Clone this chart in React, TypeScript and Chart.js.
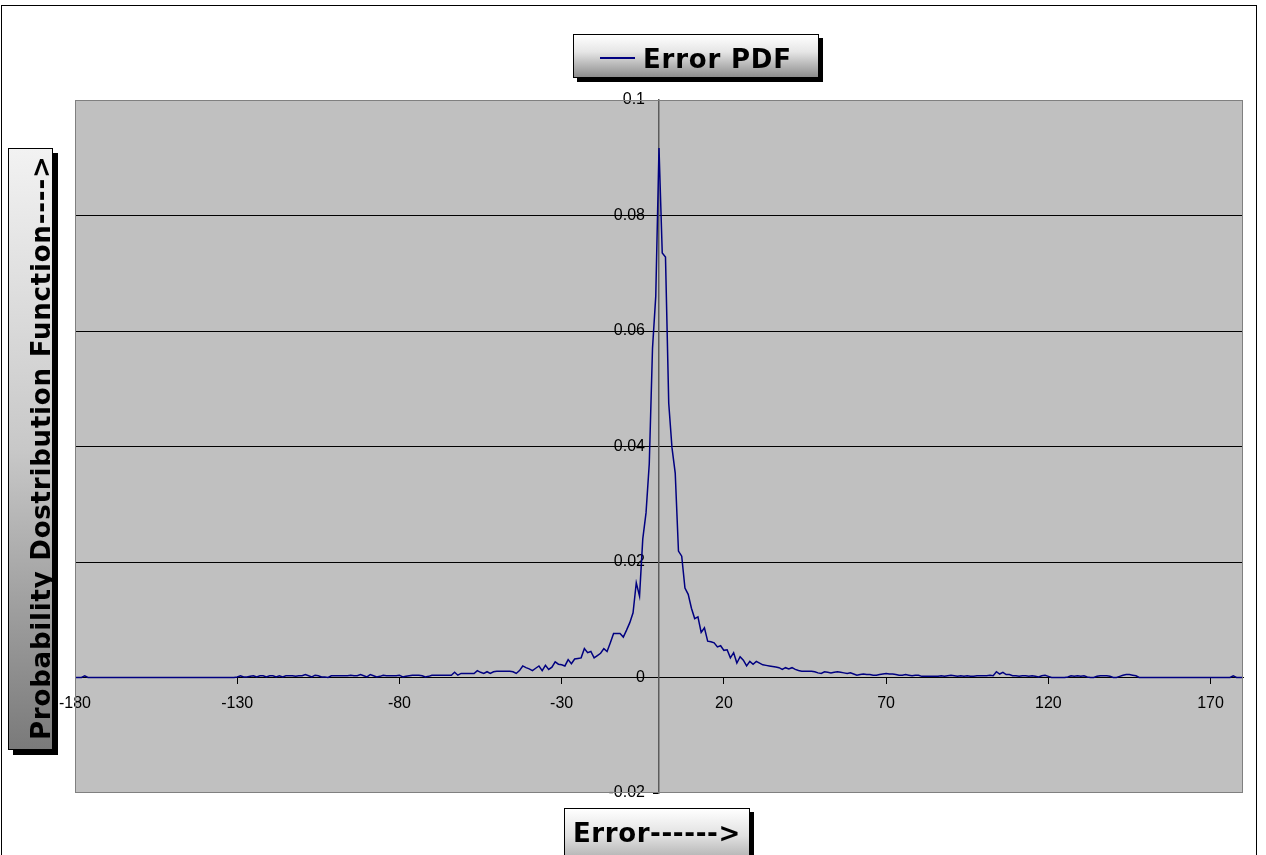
import React, { useEffect, useRef } from "react";
import { Chart, registerables } from "chart.js";

Chart.register(...registerables);

const SERIES_LABEL = "Error PDF";
const X_TITLE = "Error------>";
const Y_TITLE = "Probability Dostribution Function---->";

// error values run from -180 to 180 in steps of 1 (one PDF value each)
const X_START = -180;
const X_MIN = -180;
const X_MAX = 180;
const xTickValues = [-180, -130, -80, -30, 20, 70, 120, 170];
const yTickValues = [-0.02, 0, 0.02, 0.04, 0.06, 0.08, 0.1];
const yTickLabels = ["-0.02", "0", "0.02", "0.04", "0.06", "0.08", "0.1"];

// PDF values for error = -180 ... 180
const pdfValues = [
  0, 0, 0, 0.0003, 0, 0, 0, 0, 0, 0, // -180..-171
  0, 0, 0, 0, 0, 0, 0, 0, 0, 0, // -170..-161
  0, 0, 0, 0, 0, 0, 0, 0, 0, 0, // -160..-151
  0, 0, 0, 0, 0, 0, 0, 0, 0, 0, // -150..-141
  0, 0, 0, 0, 0, 0, 0, 0, 0, 0, // -140..-131
  0.0001, 0.0003, 0.0001, 0.0001, 0.0002, 0.0003, 0.0001, 0.0003, 0.0003, 0.0001, // -130..-121
  0.0003, 0.0003, 0.0001, 0.0003, 0.0001, 0.0003, 0.0003, 0.0003, 0.0002, 0.0003, // -120..-111
  0.0003, 0.0005, 0.0003, 0.0001, 0.0004, 0.0003, 0.0001, 0.0001, 0, 0.0003, // -110..-101
  0.0003, 0.0003, 0.0003, 0.0003, 0.0003, 0.0004, 0.0003, 0.0003, 0.0005, 0.0003, // -100..-91
  0.0001, 0.0005, 0.0003, 0.0001, 0.0002, 0.0004, 0.0003, 0.0003, 0.0003, 0.0003, // -90..-81
  0.0004, 0.0001, 0.0002, 0.0003, 0.0004, 0.0004, 0.0004, 0.0003, 0.0001, 0.0002, // -80..-71
  0.0004, 0.0004, 0.0004, 0.0004, 0.0004, 0.0004, 0.0004, 0.0009, 0.0004, 0.0007, // -70..-61
  0.0007, 0.0007, 0.0007, 0.0007, 0.0012, 0.0009, 0.0007, 0.001, 0.0007, 0.001, // -60..-51
  0.0011, 0.0011, 0.0011, 0.0011, 0.0011, 0.001, 0.0007, 0.0012, 0.002, 0.0017, // -50..-41
  0.0015, 0.0012, 0.0016, 0.002, 0.0012, 0.0021, 0.0014, 0.0018, 0.0027, 0.0023, // -40..-31
  0.0022, 0.002, 0.0031, 0.0024, 0.0032, 0.0033, 0.0034, 0.005, 0.0043, 0.0045, // -30..-21
  0.0034, 0.0038, 0.0042, 0.005, 0.0045, 0.006, 0.0076, 0.0076, 0.0076, 0.007, // -20..-11
  0.0082, 0.0095, 0.0112, 0.0164, 0.0141, 0.024, 0.0285, 0.037, 0.057, 0.066, // -10..-1
  0.0917, // 0
  0.0735, 0.0728, 0.0475, 0.0398, 0.0354, 0.0219, 0.021, 0.0155, 0.0144, 0.012, // 1..10
  0.0102, 0.0105, 0.0078, 0.0086, 0.0063, 0.0062, 0.006, 0.0053, 0.0055, 0.0047, // 11..20
  0.0048, 0.0034, 0.0043, 0.0025, 0.0036, 0.003, 0.002, 0.0028, 0.0023, 0.0028, // 21..30
  0.0025, 0.0022, 0.0021, 0.002, 0.0019, 0.0018, 0.0017, 0.0014, 0.0017, 0.0015, // 31..40
  0.0017, 0.0014, 0.0012, 0.0011, 0.0011, 0.0011, 0.0011, 0.001, 0.0008, 0.0007, // 41..50
  0.001, 0.0009, 0.0008, 0.0009, 0.001, 0.0009, 0.0008, 0.0007, 0.0008, 0.0006, // 51..60
  0.0004, 0.0005, 0.0006, 0.0005, 0.0005, 0.0004, 0.0004, 0.0005, 0.0006, 0.0007, // 61..70
  0.0006, 0.0006, 0.0005, 0.0004, 0.0004, 0.0005, 0.0004, 0.0003, 0.0004, 0.0004, // 71..80
  0.0002, 0.0002, 0.0002, 0.0002, 0.0002, 0.0002, 0.0003, 0.0002, 0.0003, 0.0004, // 81..90
  0.0003, 0.0002, 0.0003, 0.0002, 0.0003, 0.0002, 0.0002, 0.0003, 0.0003, 0.0003, // 91..100
  0.0003, 0.0004, 0.0003, 0.001, 0.0006, 0.0009, 0.0005, 0.0005, 0.0003, 0.0003, // 101..110
  0.0002, 0.0003, 0.0003, 0.0002, 0.0003, 0.0002, 0.0001, 0.0003, 0.0004, 0.0002, // 111..120
  0, 0, 0, 0, 0, 0.0001, 0.0003, 0.0002, 0.0003, 0.0002, // 121..130
  0.0003, 0.0001, 0, 0, 0.0002, 0.0003, 0.0003, 0.0003, 0.0002, 0, // 131..140
  0, 0.0002, 0.0004, 0.0005, 0.0005, 0.0004, 0.0003, 0, 0, 0, // 141..150
  0, 0, 0, 0, 0, 0, 0, 0, 0, 0, // 151..160
  0, 0, 0, 0, 0, 0, 0, 0, 0, 0, // 161..170
  0, 0, 0, 0, 0, 0, 0.0003, 0, 0, 0, // 171..180
];

const LINE_COLOR = "#000080";
const TITLE_FONT = "'DejaVu Sans', Verdana, sans-serif";
const TICK_FONT = "'Liberation Sans', Arial, sans-serif";
const Y_TICK_LENGTH = 5;
const Y_LABEL_GAP = 9;

const framePlugin = {
  id: "excelFrame",
  beforeDraw(chart: any) {
    const { ctx, chartArea: a } = chart;
    ctx.save();
    ctx.fillStyle = "#ffffff";
    ctx.fillRect(0, 0, chart.width, chart.height);
    ctx.strokeStyle = "#000000";
    ctx.lineWidth = 1;
    ctx.strokeRect(1.5, 5.5, 1255, 900);
    ctx.fillStyle = "#c0c0c0";
    ctx.fillRect(a.left, a.top, a.right - a.left, a.bottom - a.top);
    ctx.restore();
    // y-axis crosses the plot in the middle: move its labels left of the tick marks
    const ys = chart.scales.y;
    if (ys) {
      const items = ys.getLabelItems();
      items.forEach((it: any) => {
        if (!it.__shifted) {
          it.options.translation[0] -= Y_TICK_LENGTH + Y_LABEL_GAP;
          it.__shifted = true;
        }
      });
    }
  },
  afterDraw(chart: any) {
    const { ctx, chartArea: a } = chart;
    ctx.save();
    ctx.strokeStyle = "#808080";
    ctx.lineWidth = 1;
    ctx.strokeRect(a.left + 0.5, a.top + 0.5, a.right - a.left - 1, a.bottom - a.top - 1);
    ctx.restore();
  },
};

export default function App() {
  const canvasRef = useRef<HTMLCanvasElement | null>(null);

  useEffect(() => {
    if (!canvasRef.current) return;
    const points = pdfValues.map((y, i) => ({ x: X_START + i, y }));
    const chart = new Chart(canvasRef.current, {
      type: "line",
      data: {
        datasets: [
          {
            label: SERIES_LABEL,
            data: points,
            borderColor: LINE_COLOR,
            borderWidth: 1.5,
            pointRadius: 0,
            tension: 0,
            fill: false,
          },
        ],
      },
      options: {
        responsive: false,
        animation: false,
        devicePixelRatio: 1,
        layout: { padding: { left: 75, top: 100, right: 23, bottom: 62 } },
        plugins: {
          legend: { display: false },
          tooltip: { enabled: false },
          title: { display: false },
        },
        scales: {
          x: {
            type: "linear",
            min: X_MIN,
            max: X_MAX,
            position: { y: 0 } as any,
            afterBuildTicks: (s: any) => {
              s.ticks = xTickValues.map((v) => ({ value: v }));
            },
            ticks: {
              autoSkip: false,
              maxRotation: 0,
              minRotation: 0,
              padding: 10,
              color: "#000000",
              font: { family: TICK_FONT, size: 16 },
              callback: (v: any) => String(v),
            },
            grid: {
              drawOnChartArea: false,
              drawTicks: true,
              tickLength: 6,
              tickColor: "#000000",
              color: "#000000",
            },
            border: { display: true, color: "#000000", width: 1 },
          },
          y: {
            type: "linear",
            min: -0.02,
            max: 0.1,
            position: { x: 0 } as any,
            afterBuildTicks: (s: any) => {
              s.ticks = yTickValues.map((v) => ({ value: v }));
            },
            ticks: {
              autoSkip: false,
              padding: Y_LABEL_GAP,
              color: "#000000",
              font: { family: TICK_FONT, size: 16 },
              callback: (_v: any, i: number) => yTickLabels[i],
            },
            grid: {
              drawTicks: true,
              tickLength: Y_TICK_LENGTH,
              tickColor: "#000000",
              color: (ctx: any) => {
                const i = ctx.index;
                return i === 0 || i === yTickValues.length - 1 ? "rgba(0,0,0,0)" : "#000000";
              },
              lineWidth: 1,
            },
            border: { display: true, color: "#5c5c5c", width: 1.5 },
          },
        },
      },
      plugins: [framePlugin],
    });
    return () => chart.destroy();
  }, []);

  const boxBase: React.CSSProperties = {
    position: "absolute",
    boxSizing: "border-box",
    border: "1px solid #000",
    boxShadow: "4px 4px 0 #000",
  };

  return (
    <div style={{ position: "absolute", left: 0, top: 0, width: 1266, height: 855, overflow: "hidden", background: "#fff" }}>
      <canvas ref={canvasRef} width={1266} height={855} style={{ position: "absolute", left: 0, top: 0, width: 1266, height: 855 }} />
      {/* legend */}
      <div style={{ ...boxBase, left: 573, top: 34, width: 246, height: 44, background: "linear-gradient(to bottom, #ffffff 0%, #e6e6e6 40%, #8c8c8c 100%)" }} />
      <div style={{ position: "absolute", left: 600, top: 57, width: 35, height: 0, borderTop: `2px solid ${LINE_COLOR}` }} />
      <div style={{ position: "absolute", left: 643, top: 46, fontFamily: TITLE_FONT, fontWeight: "bold", fontSize: 26, lineHeight: "26px", letterSpacing: 0.8, whiteSpace: "nowrap", color: "#000" }}>
        {SERIES_LABEL}
      </div>
      {/* y-axis title */}
      <div style={{ ...boxBase, boxShadow: "5px 5px 0 #000", left: 8, top: 148, width: 45, height: 602, background: "linear-gradient(to bottom, #f2f2f2 0%, #c8c8c8 50%, #7a7a7a 100%)" }} />
      <div style={{ position: "absolute", left: 28, top: 740, transformOrigin: "left top", transform: "rotate(-90deg)", fontFamily: TITLE_FONT, fontWeight: "bold", fontSize: 26, lineHeight: "26px", letterSpacing: 0.8, whiteSpace: "nowrap", color: "#000" }}>
        {Y_TITLE}
      </div>
      {/* x-axis title */}
      <div style={{ ...boxBase, left: 564, top: 808, width: 186, height: 70, background: "linear-gradient(to bottom, #ffffff 0%, #e0e0e0 40%, #8c8c8c 100%)" }} />
      <div style={{ position: "absolute", left: 573, top: 820, fontFamily: TITLE_FONT, fontWeight: "bold", fontSize: 26, lineHeight: "26px", letterSpacing: 0.6, whiteSpace: "nowrap", color: "#000" }}>
        {X_TITLE}
      </div>
    </div>
  );
}
